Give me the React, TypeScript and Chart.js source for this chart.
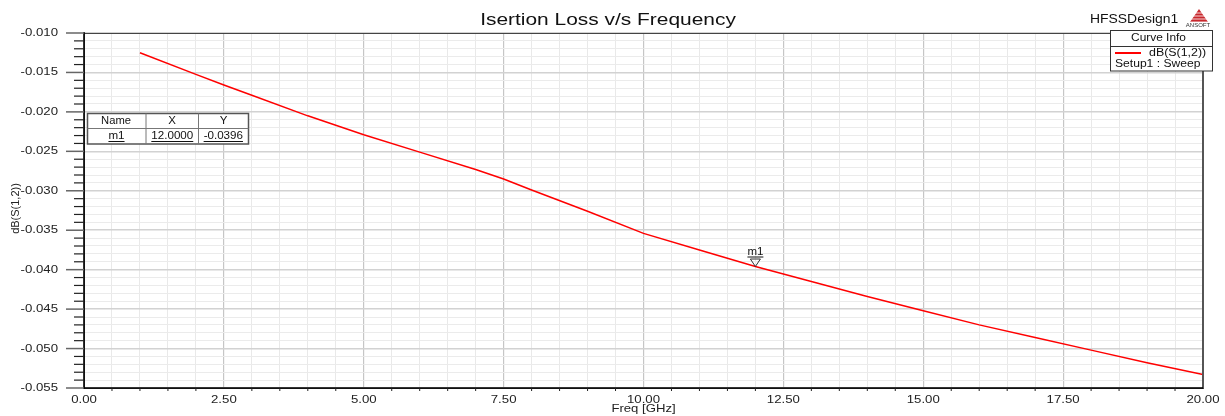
import { useEffect, useRef } from 'react';
import { Chart, registerables } from 'chart.js';

Chart.register(...registerables);

// ---- data ----
const freqGHz = [1, 2, 2.5, 3, 4, 5, 6, 7, 7.5, 8, 9, 10, 11, 12, 13, 14, 15, 16, 17, 18, 19, 20];
const dBS12 = [
  -0.0125, -0.01525, -0.0166, -0.0179, -0.0205, -0.0229, -0.0251, -0.0273, -0.0285, -0.0299,
  -0.0326, -0.0354, -0.0375, -0.0396, -0.0415, -0.0434, -0.0452, -0.047, -0.0486, -0.0502,
  -0.0518, -0.0533,
];
const markerName = 'm1';
const markerX = 12;
const markerY = -0.0396;
const xMin = 0;
const xMax = 20;
const xMajorStep = 2.5;
const xMinorStep = 0.5;
const yMin = -0.055;
const yMax = -0.01;
const yMinorStep = 0.001;
const titleText = 'Isertion Loss v/s Frequency';
const xTitle = 'Freq [GHz]';
const yTitle = 'dB(S(1,2))';
const designName = 'HFSSDesign1';
const legendHeader = 'Curve Info';
const legendSeries = 'dB(S(1,2))';
const legendSetup = 'Setup1 : Sweep';

const FONT = '"Liberation Sans", Arial, Helvetica, sans-serif';

function isYMajor(v: number) {
  const k = Math.round(Math.abs(v) * 1000);
  return k % 5 === 0;
}
function isXMajor(v: number) {
  const r = v / xMajorStep;
  return Math.abs(r - Math.round(r)) < 1e-6;
}

// text drawn with a horizontal stretch (HFSS-like wide glyphs)
function drawText(
  ctx: CanvasRenderingContext2D,
  s: string,
  x: number,
  y: number,
  size: number,
  align: 'left' | 'center' | 'right',
  sx: number,
  color = '#000'
) {
  ctx.save();
  ctx.font = `${size}px ${FONT}`;
  ctx.fillStyle = color;
  ctx.textBaseline = 'middle';
  ctx.textAlign = 'left';
  const w = ctx.measureText(s).width * sx;
  const x0 = align === 'center' ? x - w / 2 : align === 'right' ? x - w : x;
  ctx.translate(x0, y);
  ctx.scale(sx, 1);
  ctx.fillText(s, 0, 0);
  ctx.restore();
  return { x0, w };
}

function line(ctx: CanvasRenderingContext2D, x1: number, y1: number, x2: number, y2: number, color: string, lw: number) {
  ctx.save();
  ctx.strokeStyle = color;
  ctx.lineWidth = lw;
  ctx.beginPath();
  ctx.moveTo(x1, y1);
  ctx.lineTo(x2, y2);
  ctx.stroke();
  ctx.restore();
}

const decorPlugin = {
  id: 'hfssDecor',
  beforeDraw(chart: any) {
    const ctx = chart.ctx as CanvasRenderingContext2D;
    ctx.save();
    ctx.fillStyle = '#ffffff';
    ctx.fillRect(0, 0, chart.width, chart.height);
    ctx.restore();
  },
  afterDraw(chart: any) {
    const ctx = chart.ctx as CanvasRenderingContext2D;
    const xs = chart.scales.x;
    const ys = chart.scales.y;
    const { left, right, top, bottom } = chart.chartArea;

    // frame
    ctx.save();
    ctx.strokeStyle = '#444';
    ctx.lineWidth = 1;
    ctx.strokeRect(left + 0.5, top + 0.5, right - left, bottom - top);
    ctx.restore();
    line(ctx, right, top, right, bottom, '#555', 2);
    line(ctx, left, top - 1, left, bottom + 1, '#000', 1.5);
    line(ctx, left - 1, bottom, right, bottom, '#000', 1.5);

    // y ticks + labels
    for (const t of ys.ticks) {
      const py = ys.getPixelForValue(t.value);
      if (isYMajor(t.value)) {
        line(ctx, left - 18, py, left, py, '#666', 1.5);
        drawText(ctx, t.value.toFixed(3), 58, py, 11, 'right', 1.2, '#222');
      } else {
        line(ctx, left - 10, py, left, py, '#222', 1.2);
      }
    }
    // x ticks + labels
    for (const t of xs.ticks) {
      const px = xs.getPixelForValue(t.value);
      if (isXMajor(t.value)) {
        drawText(ctx, t.value.toFixed(2), px, 399.5, 11, 'center', 1.2, '#222');
      } else {
        line(ctx, px, bottom, px, bottom + 3, '#222', 1);
      }
    }

    // axis titles
    drawText(ctx, xTitle, (left + right) / 2, 409.5, 10.5, 'center', 1.25, '#222');
    ctx.save();
    ctx.translate(16, (top + bottom) / 2 - 2);
    ctx.rotate(-Math.PI / 2);
    drawText(ctx, yTitle, 0, 0, 10, 'center', 1.1, '#222');
    ctx.restore();

    // title
    drawText(ctx, titleText, 608, 20, 17, 'center', 1.23, '#111');
    drawText(ctx, designName, 1090, 19.5, 12, 'left', 1.16, '#111');

    // ANSOFT logo
    ctx.save();
    ctx.fillStyle = '#c8282d';
    ctx.beginPath();
    ctx.moveTo(1199, 9);
    ctx.lineTo(1208, 22);
    ctx.lineTo(1190, 22);
    ctx.closePath();
    ctx.fill();
    ctx.strokeStyle = '#ffffff';
    ctx.lineWidth = 0.8;
    for (let i = 0; i < 4; i++) {
      ctx.beginPath();
      ctx.moveTo(1190, 13 + i * 3);
      ctx.lineTo(1209, 13 + i * 3);
      ctx.stroke();
    }
    ctx.restore();
    drawText(ctx, 'ANSOFT', 1198, 25, 6, 'center', 1, '#333');

    // legend box
    ctx.save();
    ctx.fillStyle = '#fff';
    ctx.fillRect(1110.5, 30.5, 102, 40.5);
    ctx.strokeStyle = '#333';
    ctx.lineWidth = 1;
    ctx.strokeRect(1110.5, 30.5, 102, 40.5);
    ctx.restore();
    line(ctx, 1110.5, 46.5, 1212.5, 46.5, '#333', 1);
    drawText(ctx, legendHeader, 1158.5, 38.7, 10, 'center', 1.19, '#111');
    line(ctx, 1115, 53, 1141, 53, '#ff0000', 2);
    drawText(ctx, legendSeries, 1149, 53.5, 10, 'left', 1.24, '#111');
    drawText(ctx, legendSetup, 1115, 64.5, 10, 'left', 1.21, '#111');

    // marker table
    const tx0 = 87.5, tx1 = 248.5, ty0 = 113.5, ty1 = 144, tyM = 128.5;
    const c1 = 146, c2 = 198.5;
    ctx.save();
    ctx.fillStyle = '#fff';
    ctx.fillRect(tx0, ty0, tx1 - tx0, ty1 - ty0);
    ctx.strokeStyle = '#555';
    ctx.lineWidth = 1.5;
    ctx.strokeRect(tx0, ty0, tx1 - tx0, ty1 - ty0);
    ctx.restore();
    line(ctx, tx0, tyM, tx1, tyM, '#777', 1);
    line(ctx, c1, ty0, c1, ty1, '#777', 1);
    line(ctx, c2, ty0, c2, ty1, '#777', 1);
    drawText(ctx, 'Name', 116, 121.5, 10, 'center', 1.12, '#111');
    drawText(ctx, 'X', 172, 121.5, 10, 'center', 1.15, '#111');
    drawText(ctx, 'Y', 223.5, 121.5, 10, 'center', 1.15, '#111');
    const row = [
      { s: markerName, x: 116.5 },
      { s: markerX.toFixed(4), x: 172.3 },
      { s: markerY.toFixed(4), x: 223.3 },
    ];
    for (const r of row) {
      const { x0, w } = drawText(ctx, r.s, r.x, 136.3, 10, 'center', 1.16, '#111');
      line(ctx, x0, 141.5, x0 + w, 141.5, '#111', 1);
    }

    // marker on curve
    const mx = xs.getPixelForValue(markerX);
    const my = ys.getPixelForValue(markerY);
    ctx.save();
    ctx.strokeStyle = '#333';
    ctx.lineWidth = 1;
    ctx.beginPath();
    ctx.moveTo(mx - 5, my - 7.5);
    ctx.lineTo(mx + 5, my - 7.5);
    ctx.lineTo(mx, my);
    ctx.closePath();
    ctx.stroke();
    ctx.restore();
    const mt = drawText(ctx, markerName, mx, my - 14, 10, 'center', 1.15, '#111');
    line(ctx, mt.x0, my - 9.5, mt.x0 + mt.w, my - 9.5, '#111', 1);
  },
};

export default function App() {
  const ref = useRef<HTMLCanvasElement | null>(null);

  useEffect(() => {
    document.body.style.margin = '0';
    const canvas = ref.current;
    if (!canvas) return;
    const chart = new Chart(canvas, {
      type: 'line',
      data: {
        datasets: [
          {
            label: legendSeries,
            data: freqGHz.map((f, i) => ({ x: f, y: dBS12[i] })),
            borderColor: '#ff0000',
            borderWidth: 1.5,
            pointRadius: 0,
            tension: 0,
            fill: false,
          },
        ],
      },
      options: {
        responsive: false,
        animation: false,
        devicePixelRatio: 1,
        layout: { padding: { left: 0, right: 22, top: 33, bottom: 0 } },
        plugins: {
          legend: { display: false },
          title: { display: false },
          tooltip: { enabled: false },
        },
        scales: {
          x: {
            type: 'linear',
            min: xMin,
            max: xMax,
            ticks: { stepSize: xMinorStep, display: false },
            grid: {
              drawTicks: false,
              color: (c: any) => (c.tick && isXMajor(c.tick.value) ? '#c6c6c6' : '#e9e9e9'),
              lineWidth: (c: any) => (c.tick && isXMajor(c.tick.value) ? 1.2 : 1),
            },
            border: { display: false },
            afterFit: (s: any) => {
              s.height = 28;
            },
          },
          y: {
            type: 'linear',
            min: yMin,
            max: yMax,
            ticks: { stepSize: yMinorStep, display: false },
            grid: {
              drawTicks: false,
              color: (c: any) => (c.tick && isYMajor(c.tick.value) ? '#d2d2d2' : '#ebebeb'),
              lineWidth: (c: any) => (c.tick && isYMajor(c.tick.value) ? 1.5 : 1),
            },
            border: { display: false },
            afterFit: (s: any) => {
              s.width = 84;
            },
          },
        },
      },
      plugins: [decorPlugin],
    } as any);
    return () => chart.destroy();
  }, []);

  return (
    <div style={{ position: 'absolute', left: 0, top: 0, width: 1225, height: 416, background: '#fff' }}>
      <canvas ref={ref} width={1225} height={416} style={{ display: 'block', width: 1225, height: 416 }} />
    </div>
  );
}
